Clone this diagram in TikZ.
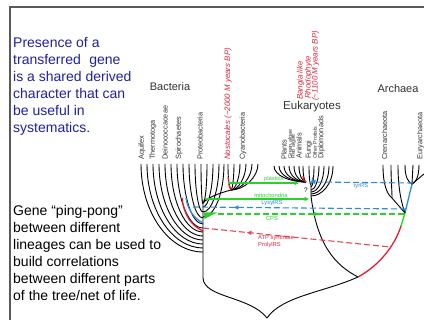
\documentclass[tikz,border=0pt]{standalone}
\usepackage{fontspec}
\setmainfont{Liberation Sans}
\usetikzlibrary{arrows.meta,decorations.markings}
\definecolor{navytext}{RGB}{32,32,160}
\definecolor{hgtgreen}{RGB}{40,210,40}
\definecolor{hgtblue}{RGB}{40,140,225}
\definecolor{hgtred}{RGB}{225,30,45}
\definecolor{dashred}{RGB}{232,70,80}
\definecolor{labred}{RGB}{220,40,60}
\definecolor{taxgray}{RGB}{50,50,50}
\definecolor{framegray}{RGB}{90,90,90}
\begin{document}
\begin{tikzpicture}[x=1pt,y=-1pt,
  tree/.style={line width=0.9pt, black},
  taxon/.style={rotate=90, anchor=west, font=\fontsize{7.3}{8}\selectfont, text=taxgray, inner sep=0pt},
  smalltaxon/.style={rotate=90, anchor=west, font=\fontsize{5.3}{6}\selectfont, text=taxgray, inner sep=0pt},
  redtaxon/.style={rotate=90, anchor=west, font=\fontsize{7.9}{9}\itshape, text=labred, inner sep=0pt},
  bluetext/.style={anchor=base west, font=\fontsize{14}{17}\selectfont, text=navytext, inner sep=0pt},
  blacktext/.style={anchor=base west, font=\fontsize{14}{17}\selectfont, text=black, inner sep=0pt},
  grouplab/.style={font=\fontsize{11}{13}\selectfont, text=taxgray, inner sep=0pt},
  hgtlab/.style={font=\fontsize{5.8}{7}\selectfont, inner sep=0pt},
  dashpat/.style={dash pattern=on 6pt off 3pt, line width=1.1pt},
  midfwd/.style={postaction={decorate}, decoration={markings, mark=at position #1 with {\arrow{Triangle[length=4.5pt,width=4pt]}}}},
  midrev/.style={postaction={decorate}, decoration={markings, mark=at position #1 with {\arrowreversed{Triangle[length=4.5pt,width=4pt]}}}}
]
\useasboundingbox (0,0) rectangle (424,320);
% frame
\coordinate (ftl) at (10,7);
\coordinate (ftr) at (424,7);
\coordinate (fbl) at (10,320);
\draw[framegray, line width=1.4pt] (ftr) -- (ftl) -- (fbl);

% left texts
\node[bluetext] (p1) at (13,47.5) {Presence of a};
\node[bluetext] (p2) at (13,64.5) {transferred\hspace{0.6em}gene};
\node[bluetext] (p3) at (13,81.5) {is a shared derived};
\node[bluetext] (p4) at (13,98.5) {character that can};
\node[bluetext] (p5) at (13,115.5) {be useful in};
\node[bluetext] (p6) at (13,132.5) {systematics.};
\node[blacktext] (g1) at (13,216) {Gene “ping-pong”};
\node[blacktext] (g2) at (13,233) {between different};
\node[blacktext] (g3) at (13,250) {lineages can be used to};
\node[blacktext] (g4) at (13,267) {build correlations};
\node[blacktext] (g5) at (13,284) {between different parts};
\node[blacktext] (g6) at (13,301) {of the tree/net of life.};

% group labels
\node[grouplab] (bact) at (170,87) {Bacteria};
\node[grouplab, font=\fontsize{11.5}{13}\selectfont] (euk) at (312,107) {Eukaryotes};
\node[grouplab] (arch) at (398,89) {Archaea};

% bacterial taxa
\node[taxon] (aqu) at (142,160) {Aquifex};
\node[taxon] (the) at (153,160) {Thermotoga};
\node[taxon] (dei) at (165,160) {Deinococcaceae};
\node[taxon] (spi) at (179,160) {Spirochaetes};
\node[taxon] (pro) at (200,160) {Proteobacteria};
\node[redtaxon] (nos) at (228,160) {Nostocales (\textasciitilde2000 M years BP)};
\node[taxon] (cya) at (243,160) {Cyanobacteria};
% eukaryote taxa
\node[taxon] (pla) at (284,160) {Plants};
\node[smalltaxon] (gre) at (290.5,159) {Green algae};
\node[smalltaxon] (rea) at (293.5,159) {Red algae};
\node[taxon] (ani) at (299,159) {Animals};
\node[taxon] (fun) at (309,159) {Fungi};
\node[smalltaxon] (oth) at (315,159) {Other Protists};
\node[taxon] (dip) at (321.5,159) {Diplomonads};
\node[redtaxon] (ban) at (300.5,100) {Bangia like};
\node[redtaxon] (rho) at (308.5,99) {Rhodophyte};
\node[redtaxon] (myb) at (315.5,101) {(\textasciitilde1100 M years BP)};
% archaeal taxa
\node[taxon] (cre) at (384.5,160) {Crenarchaeota};
\node[taxon] (eur) at (420.5,160) {Euryarchaeota};

% ---------------- bacterial tree
\foreach \x/\y in {141/252,147/248,153/244,159/240,165/236,171/232,177/228,183/224,189/218,195/212,201/204,207/203,213/207,219/212,224/217}{
  \draw[tree] (\x,164) .. controls (\x,{164+0.55*(\y-164)}) and ({\x+0.45*(203-\x)},\y) .. (203,\y);
}
\coordinate (cyn) at (231,190);
\draw[tree] (228,164) .. controls (228,180) and (229,186) .. (cyn);
\foreach \x in {234,240,246,252,258}{
  \draw[tree] (\x,164) .. controls (\x,177) and ({231+0.5*(\x-231)},190) .. (cyn);
}
\draw[tree] (cyn) .. controls (220,193) and (208,197) .. (203,203);
\draw[hgtred, line width=1.3pt] (228.3,177) .. controls (228.7,185) .. (cyn);
\coordinate (bt) at (203,200);
\coordinate (bb) at (203,278);
\coordinate (root) at (267,318);
\draw[tree] (bt) -- (bb) .. controls (204,298) and (250,296) .. (root);
% coloured bacterial branches
\draw[hgtred, line width=1.3pt] (182,198) .. controls (184,216) and (192,226) .. (203,231);
\draw[hgtblue, line width=1.3pt] (186,198) .. controls (188,211) and (195,219) .. (203,223);
\fill[hgtgreen] (204,212.5) -- (217,212.5) -- (204.5,219) -- cycle;

% ---------------- eukaryote tree
\foreach \x in {274,279,284,289,294,299,303}{
  \draw[tree] (\x,166) .. controls (\x,{166+0.6*16}) and ({306-0.5*(306-\x)},182) .. (306,182);
}
\foreach \x/\y in {309/185,314/187,319/190,324/192,329/194,333/196}{
  \draw[tree] (\x,166) .. controls (\x,{166+0.6*(\y-166)}) and ({311+0.5*(\x-311)},\y) .. (311,\y);
}
\draw[hgtred, line width=1.3pt] (303,176) .. controls (303.5,180.5) .. (306,182);
\draw[hgtblue, line width=1.3pt] (313,177) -- (311.5,184);
\node[font=\fontsize{6.5}{7}\selectfont, inner sep=0pt] (qm) at (306,190) {?};
\coordinate (et) at (311,196);
\coordinate (junc) at (358,277);
\draw[tree] (311,185) -- (et) .. controls (317,245) and (335,265) .. (junc);
\draw[tree] (root) .. controls (282,296) and (325,292) .. (junc);

% ---------------- archaeal tree
\coordinate (ar) at (405,213);
\coordinate (ay) at (412,184);
\coordinate (ak) at (392,198);
\coordinate (ap) at (401,226);
\draw[hgtred, line width=1.3pt] (junc) .. controls (380,265) and (395,245) .. (ap);
\draw[hgtgreen, line width=1.3pt] (ap) -- (ar);
\draw[hgtblue, line width=1.3pt] (ar) -- (ay);
\draw[tree] (383,165) .. controls (383,185) and (387,194) .. (ak);
\draw[tree] (391,165) .. controls (391,180) and (392,190) .. (ak);
\draw[tree] (ak) .. controls (398,205) .. (ar);
\draw[tree] (398,165) .. controls (398,190) and (402,205) .. (ar);
\draw[tree] (405,165) .. controls (405,177) and (408,182) .. (ay);
\draw[tree] (413,165) .. controls (413,175) .. (ay);
\draw[tree] (419,165) .. controls (419,178) and (415,183) .. (ay);
\draw[tree] (424,174) .. controls (418,179) .. (ay);

% ---------------- transfers
\coordinate (plsA) at (228,183);
\coordinate (plsB) at (299,183);
\draw[hgtgreen, line width=1.1pt, -{Triangle[length=4.5pt,width=4pt]}] (plsA) -- (plsB);
\node[hgtlab, text=hgtgreen] (plsL) at (274,179.5) {plastids};

\coordinate (mitA) at (205,199);
\coordinate (mitB) at (309,199);
\draw[hgtgreen, line width=1.1pt, -{Triangle[length=4.5pt,width=4pt]}] (mitA) -- (mitB);
\node[hgtlab, text=hgtgreen] (mitL) at (271,195.5) {mitochondria};

\coordinate (lysA) at (193,207);
\coordinate (lysB) at (408,209);
\draw[hgtblue, dashpat, midrev=0.19] (lysA) -- (lysB);
\node[hgtlab, text=hgtblue] (lysL) at (272,203.5) {LysylRS};

\coordinate (cpsA) at (218,214);
\coordinate (cpsB) at (404,214);
\draw[hgtgreen, dashpat, midfwd=0.54] (cpsA) -- (cpsB);
\node[hgtlab, text=hgtgreen] (cpsL) at (272,219) {CPS};

\coordinate (tyrA) at (413,183);
\coordinate (tyrB) at (311,182);
\draw[hgtblue, dashpat, -{Triangle[length=4.5pt,width=4pt]}] (tyrA) -- (tyrB);
\node[hgtlab, text=hgtblue] (tyrL) at (361,186.5) {tyrRS};

\coordinate (atpA) at (203,228);
\coordinate (atpB) at (390,247);
\draw[dashred, dashpat, midrev=0.235] (atpA) -- (atpB);
\node[hgtlab, text=labred, anchor=west] (atpL) at (258,238.5) {ATP synthase};
\node[hgtlab, text=labred, anchor=west] (prlL) at (258,245.5) {ProlylRS};
\end{tikzpicture}
\end{document}
